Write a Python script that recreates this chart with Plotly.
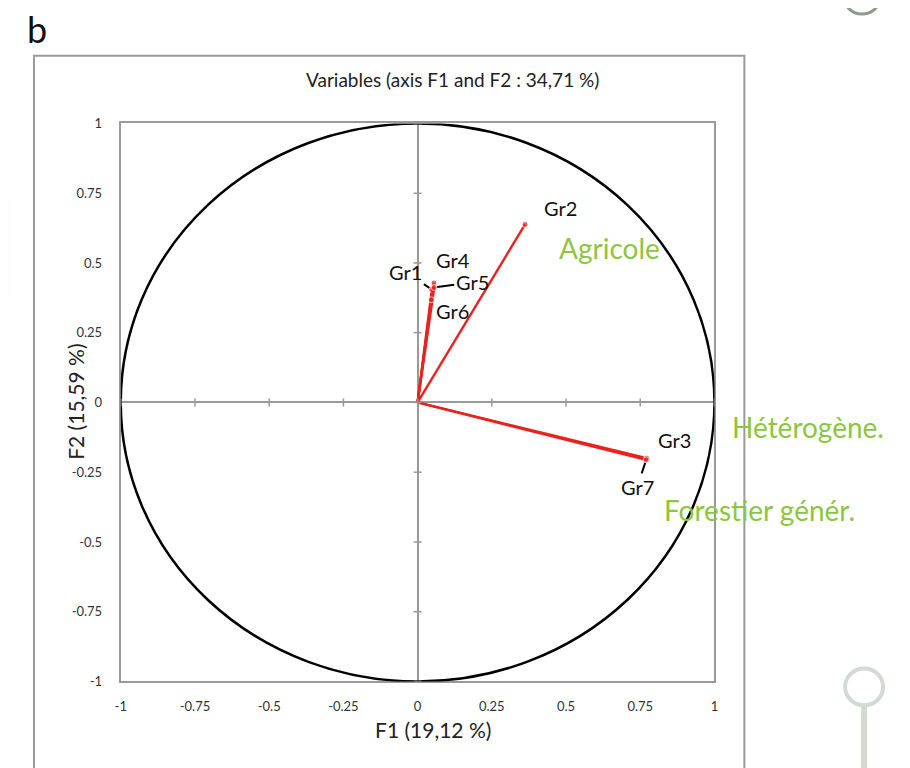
import plotly.graph_objects as go

# --- data -------------------------------------------------------------
groups = ["Gr1", "Gr2", "Gr3", "Gr4", "Gr5", "Gr6", "Gr7"]
f1 = [0.048, 0.362, 0.772, 0.055, 0.056, 0.046, 0.770]
f2 = [0.405, 0.638, -0.200, 0.428, 0.412, 0.368, -0.206]

tick_vals = [-1, -0.75, -0.5, -0.25, 0, 0.25, 0.5, 0.75, 1]
tick_text = ["-1", "-0.75", "-0.5", "-0.25", "0", "0.25", "0.5", "0.75", "1"]

# label offsets (px) from each point: (dx, dy, show leader line)
label_pos = {
    "Gr1": (-26, -17, True),
    "Gr2": (35, -16, False),
    "Gr3": (28, -18, False),
    "Gr4": (19, -23, False),
    "Gr5": (38, -5, True),
    "Gr6": (21, 11, False),
    "Gr7": (-9, 27, True),
}

categories = ["Agricole", "Hétérogène.", "Forestier génér."]
cat_left = [557, 731, 662]    # px, left edge
cat_mid = [247, 427, 511]     # px, vertical centre

W, H = 910, 768
FONT = "Lato, 'Open Sans', sans-serif"
GREEN = "#8cc63f"


# paper fraction from target pixel position
def px_x(p):
    return (p - 13) / 902


def px_y(p):
    return 1 - (p - 14) / 756


fig = go.Figure()

# correlation circle
fig.add_shape(type="circle", xref="x", yref="y", x0=-1, y0=-1, x1=1, y1=1,
              line=dict(color="black", width=2.5), layer="above")

for g, x, y in zip(groups, f1, f2):
    fig.add_trace(go.Scatter(
        x=[0, x], y=[0, y], mode="lines+markers",
        line=dict(color="#e8231f", width=2.4),
        marker=dict(color="#e8231f", size=[0, 6]),
        showlegend=False, hoverinfo="skip",
    ))
    dx, dy, leader = label_pos[g]
    fig.add_annotation(
        x=x, y=y, xref="x", yref="y", text=g,
        showarrow=leader, arrowhead=0, arrowwidth=2, arrowcolor="black",
        ax=dx, ay=dy, standoff=3,
        xshift=0 if leader else dx, yshift=0 if leader else -dy,
        font=dict(family=FONT, size=20, color="#111"),
    )

# small cross ticks along the zero lines
for v in tick_vals:
    fig.add_shape(type="line", xref="x", yref="y", x0=v, x1=v,
                  ysizemode="pixel", yanchor=0, y0=-4, y1=4,
                  line=dict(color="#999", width=1.5))
    fig.add_shape(type="line", xref="x", yref="y", y0=v, y1=v,
                  xsizemode="pixel", xanchor=0, x0=-4, x1=4,
                  line=dict(color="#999", width=1.5))

# green category labels
for t, x, y in zip(categories, cat_left, cat_mid):
    fig.add_annotation(x=px_x(x), y=px_y(y), xref="paper", yref="paper", text=t,
                       showarrow=False, xanchor="left", yanchor="middle",
                       font=dict(family=FONT, size=28, color=GREEN))

# outer chart frame
fig.add_shape(type="rect", xref="paper", yref="paper",
              x0=px_x(33), x1=px_x(745), y0=px_y(780), y1=px_y(54),
              line=dict(color="#9a9a9a", width=2))

# slide decorations
fig.add_shape(type="path", xref="paper", yref="paper",
              path=(f"M {px_x(-20)},{px_y(186)} L {px_x(-6)},{px_y(186)} "
                    f"Q {px_x(5)},{px_y(186)} {px_x(5)},{px_y(197)} "
                    f"L {px_x(5)},{px_y(296)} Q {px_x(5)},{px_y(307)} {px_x(-6)},{px_y(307)} "
                    f"L {px_x(-20)},{px_y(307)}"),
              line=dict(color=GREEN, width=4))
fig.add_shape(type="circle", xref="paper", yref="paper",
              x0=px_x(845), x1=px_x(881), y0=px_y(12), y1=px_y(-22),
              line=dict(color="#8b9b90", width=3))
fig.add_shape(type="circle", xref="paper", yref="paper",
              x0=px_x(846), x1=px_x(884), y0=px_y(707), y1=px_y(670),
              line=dict(color="#d3d9d3", width=4))
fig.add_shape(type="line", xref="paper", yref="paper",
              x0=px_x(865), x1=px_x(865), y0=px_y(708), y1=px_y(780),
              line=dict(color="#d3d9d3", width=6))

text_items = [
    ("b", 36, 27, 36, 0),
    ("Variables (axis F1 and F2 : 34,71 %)", 452, 78, 19, 0),
    ("F1 (19,12 %)", 433, 731, 21, 0),
    ("F2 (15,59 %)", 75, 402, 21, -90),
]
for t, x, y, size, angle in text_items:
    fig.add_annotation(x=px_x(x), y=px_y(y), xref="paper", yref="paper",
                       text=t, showarrow=False, textangle=angle,
                       xanchor="center", yanchor="middle",
                       font=dict(family=FONT, size=size, color="#111" if t == "b" else "#222"))

axis_common = dict(
    range=[-1, 1], tickvals=tick_vals, ticktext=tick_text,
    showgrid=False, zeroline=True, zerolinecolor="#999", zerolinewidth=2,
    showline=True, linecolor="#999", linewidth=2, mirror=True,
    ticks="", tickfont=dict(family=FONT, size=13, color="#333"),
    fixedrange=True,
)

fig.update_layout(
    width=W, height=H, margin=dict(l=0, r=0, t=0, b=0),
    paper_bgcolor="white", plot_bgcolor="white",
    xaxis=dict(domain=[px_x(120), px_x(715)], ticklabelstandoff=12, **axis_common),
    yaxis=dict(domain=[px_y(683), px_y(122)], ticklabelstandoff=14, **axis_common),
    showlegend=False,
)

fig.write_html("out.html")
